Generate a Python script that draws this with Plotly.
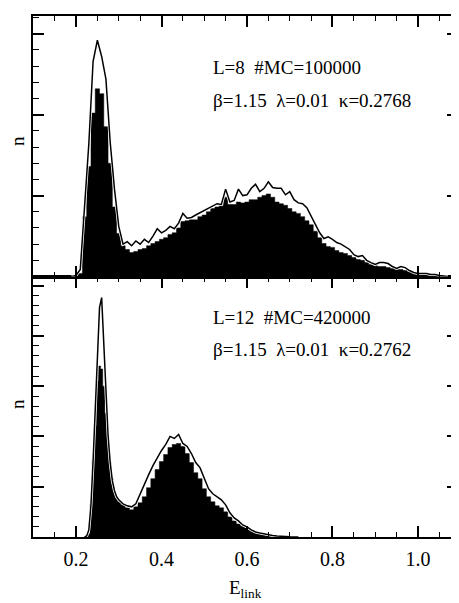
import plotly.graph_objects as go

# ---------------- data ----------------
x_top = [0.19, 0.20, 0.21, 0.22, 0.23, 0.24, 0.25, 0.26, 0.27, 0.28, 0.29,
         0.30, 0.31, 0.32, 0.33, 0.34, 0.35, 0.36, 0.37, 0.38, 0.39,
         0.40, 0.41, 0.42, 0.43, 0.44, 0.45, 0.46, 0.47, 0.48, 0.49,
         0.50, 0.51, 0.52, 0.53, 0.54, 0.55, 0.56, 0.57, 0.58, 0.59,
         0.60, 0.61, 0.62, 0.63, 0.64, 0.65, 0.66, 0.67, 0.68, 0.69,
         0.70, 0.71, 0.72, 0.73, 0.74, 0.75, 0.76, 0.77, 0.78, 0.79,
         0.80, 0.81, 0.82, 0.83, 0.84, 0.85, 0.86, 0.87, 0.88, 0.89,
         0.90, 0.91, 0.92, 0.93, 0.94, 0.95, 0.96, 0.97, 0.98, 0.99,
         1.00, 1.01, 1.02, 1.03, 1.04, 1.05, 1.06, 1.07]

n_top_line = [0, 0.06, 0.43, 4.1, 8.2, 13.3, 14.6, 13.6, 12.2, 8.3, 5.4,
              3.1, 2.0, 2.15, 1.9, 2.2, 2.0, 2.3, 2.1, 2.5, 2.95,
              2.7, 2.85, 3.1, 2.95, 3.3, 3.9, 3.6, 3.65, 3.8, 3.95,
              4.1, 4.2, 4.4, 4.5, 4.45, 5.4, 4.6, 4.7, 5.4, 5.0,
              5.05, 5.45, 5.7, 5.25, 5.45, 5.85, 5.5, 5.45, 5.45, 5.05,
              5.25, 4.75, 4.55, 4.5, 4.25, 3.7, 3.15, 2.7, 2.35, 2.45,
              2.3, 2.1, 2.0, 1.85, 1.67, 1.35, 1.23, 1.3, 1.0, 0.86,
              0.74, 0.86, 0.86, 0.8, 0.62, 0.5, 0.62, 0.55, 0.37, 0.25,
              0.19, 0.19, 0.19, 0.12, 0.12, 0.06, 0.02, 0]

n_top_fill = [0, 0, 0.19, 3.7, 6.8, 10.1, 11.6, 11.3, 9.26, 7.0, 4.3,
              2.65, 1.9, 1.67, 1.48, 1.55, 1.67, 1.73, 1.9, 2.04, 2.16,
              2.3, 2.4, 2.6, 2.7, 3.0, 3.4, 3.45, 3.5, 3.5, 3.7,
              3.8, 4.0, 4.2, 4.3, 4.4, 4.9, 4.45, 4.45, 4.6, 4.55,
              4.6, 4.75, 4.75, 4.9, 5.0, 5.1, 4.9, 4.6, 4.5, 4.4,
              4.2, 4.0, 3.9, 3.7, 3.45, 3.2, 2.8, 2.4, 2.04, 1.85,
              1.8, 1.6, 1.48, 1.42, 1.3, 1.17, 1.05, 1.0, 0.86, 0.74,
              0.68, 0.62, 0.62, 0.55, 0.5, 0.43, 0.43, 0.37, 0.3, 0.25,
              0.19, 0.19, 0.15, 0.12, 0.09, 0.06, 0.02, 0]

x_bot = [0.22, 0.225, 0.23, 0.235, 0.24, 0.245, 0.25, 0.255, 0.26, 0.265,
         0.27, 0.275, 0.28, 0.285, 0.29, 0.295, 0.30, 0.31, 0.32, 0.33,
         0.34, 0.35, 0.36, 0.37, 0.38, 0.39, 0.40, 0.41, 0.42, 0.43,
         0.44, 0.45, 0.46, 0.47, 0.48, 0.49, 0.50, 0.51, 0.52, 0.53,
         0.54, 0.55, 0.56, 0.57, 0.58, 0.59, 0.60, 0.61, 0.62, 0.63,
         0.64, 0.65, 0.66, 0.67, 0.68, 0.70, 0.72]

n_bot_line = [0, 0.1, 0.7, 3.2, 7.6, 12.2, 17.9, 22.8, 23.8, 18.9,
              14.0, 10.1, 7.4, 5.6, 4.6, 4.0, 3.7, 3.3, 3.1, 3.0,
              3.3, 4.3, 5.3, 6.2, 7.1, 7.9, 8.6, 9.2, 10.0, 9.8,
              10.2, 9.3, 9.0, 8.3, 7.4, 6.9, 5.8, 4.8, 4.3, 4.0,
              3.7, 3.2, 2.4, 1.9, 1.6, 1.2, 1.0, 0.7, 0.5, 0.4,
              0.3, 0.2, 0.15, 0.1, 0.05, 0.02, 0]

n_bot_fill = [0, 0, 0.3, 3.2, 7.6, 11.0, 15.5, 17.0, 16.7, 15.0,
              12.3, 9.6, 7.4, 5.8, 4.6, 4.0, 3.5, 3.2, 2.9, 2.7,
              3.0, 3.4, 4.0, 4.9, 5.8, 6.7, 7.5, 8.2, 8.9, 9.2,
              9.3, 9.0, 8.3, 7.4, 6.4, 5.8, 4.8, 4.0, 3.5, 3.1,
              2.9, 2.5, 2.0, 1.6, 1.3, 1.1, 0.9, 0.7, 0.5, 0.4,
              0.3, 0.2, 0.15, 0.1, 0.05, 0.02, 0]

x_tick_vals = [0.2, 0.4, 0.6, 0.8, 1.0]
x_tick_text = ["0.2", "0.4", "0.6", "0.8", "1.0"]

top_label_1 = "L=8  #MC=100000"
top_label_2 = "β=1.15  λ=0.01  κ=0.2768"
bot_label_1 = "L=12  #MC=420000"
bot_label_2 = "β=1.15  λ=0.01  κ=0.2762"

# ---------------- figure ----------------
FONT = "'Liberation Serif', 'Times New Roman', Times, serif"
fig = go.Figure()


def add_panel(x, fill, line, xa, ya):
    fig.add_trace(go.Scatter(x=x, y=fill, mode="lines", xaxis=xa, yaxis=ya,
                             line=dict(shape="hvh", color="black", width=0.5),
                             fill="tozeroy", fillcolor="black",
                             showlegend=False, hoverinfo="skip"))
    fig.add_trace(go.Scatter(x=x, y=line, mode="lines", xaxis=xa, yaxis=ya,
                             line=dict(color="white", width=3),
                             showlegend=False, hoverinfo="skip"))
    fig.add_trace(go.Scatter(x=x, y=line, mode="lines", xaxis=xa, yaxis=ya,
                             line=dict(color="black", width=1.5),
                             showlegend=False, hoverinfo="skip"))


add_panel(x_top, n_top_fill, n_top_line, "x2", "y2")
add_panel(x_bot, n_bot_fill, n_bot_line, "x", "y")

common = dict(showline=True, linecolor="black", linewidth=2, mirror="ticks",
              ticks="inside", ticklen=11, tickwidth=1.5, tickcolor="black",
              showgrid=False, zeroline=False)

xcommon = dict(common, range=[0.0994, 1.0936], tickvals=x_tick_vals,
               ticktext=x_tick_text,
               minor=dict(ticks="inside", ticklen=5, tickwidth=1.3,
                          tickcolor="black", dtick=0.05, tick0=0.0,
                          showgrid=False))
ycommon = dict(common, showticklabels=False, tick0=0, dtick=5,
               minor=dict(ticks="inside", ticklen=6, tickwidth=1.3,
                          tickcolor="black", dtick=1, tick0=0,
                          showgrid=False))

# the page body has an 8px margin, so the margins are shifted to compensate
fig.update_layout(
    width=459, height=603,
    margin=dict(l=25, r=9, t=6, b=74),
    paper_bgcolor="white", plot_bgcolor="white",
    font=dict(family=FONT, size=19, color="black"),
    xaxis=dict(xcommon, anchor="y", ticklabelstandoff=3,
               tickfont=dict(family=FONT, size=20, color="black")),
    yaxis=dict(ycommon, domain=[0, 0.5], range=[0, 25.9], anchor="x"),
    xaxis2=dict(xcommon, anchor="y2", matches="x", showticklabels=False),
    yaxis2=dict(ycommon, domain=[0.5, 1], range=[0, 16.1], anchor="x2"),
)

ann_font = dict(family=FONT, size=19, color="black")
annotations = [
    dict(x=0.515, y=12.9, xref="x2", yref="y2", text=top_label_1),
    dict(x=0.515, y=10.9, xref="x2", yref="y2", text=top_label_2),
    dict(x=0.515, y=21.8, xref="x", yref="y", text=bot_label_1),
    dict(x=0.515, y=18.6, xref="x", yref="y", text=bot_label_2),
]
for a in annotations:
    fig.add_annotation(a, xanchor="left", yanchor="middle", showarrow=False,
                       font=ann_font)

# axis titles
fig.add_annotation(x=-0.038, y=0.52, xref="paper", yref="y2 domain",
                   text="n", textangle=-90, showarrow=False,
                   xanchor="center", yanchor="middle", font=ann_font)
fig.add_annotation(x=-0.038, y=0.51, xref="paper", yref="y domain",
                   text="n", textangle=-90, showarrow=False,
                   xanchor="center", yanchor="middle", font=ann_font)
fig.add_annotation(x=0.5, y=-0.2, xref="paper", yref="y domain",
                   text="E<sub>link</sub>", showarrow=False,
                   xanchor="center", yanchor="middle", font=ann_font)

fig.write_html("out.html")
